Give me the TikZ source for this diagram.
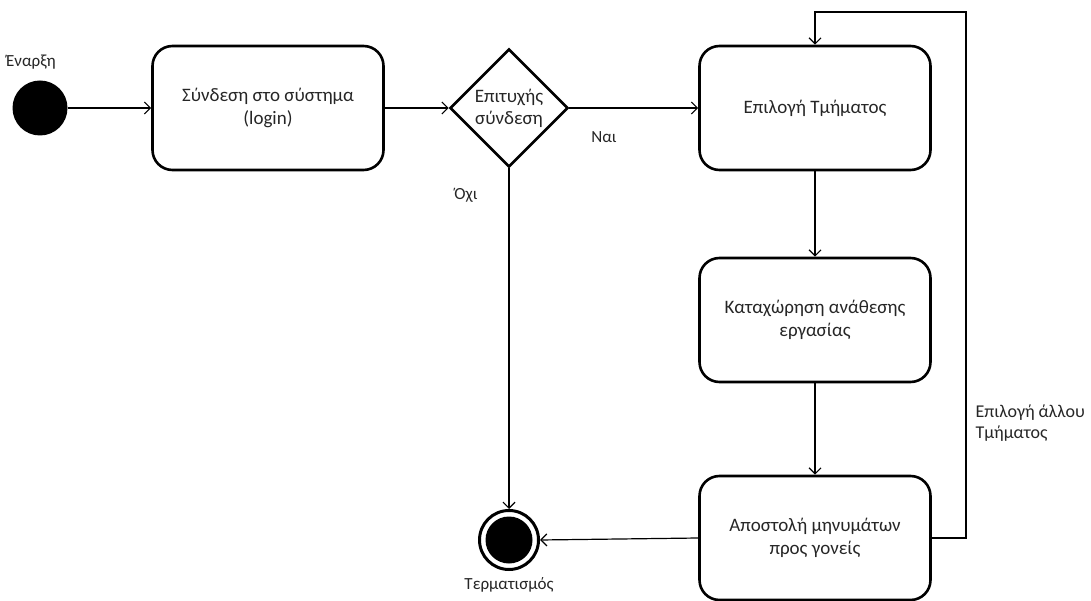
\documentclass[tikz,border=0pt]{standalone}
\usepackage{fontspec}
\setmainfont{Carlito}
\usetikzlibrary{arrows.meta,shapes.geometric}
\definecolor{txt}{RGB}{38,38,38}
\begin{document}
\begin{tikzpicture}[x=1pt,y=-1pt,
  act/.style={draw,line width=2.6pt,rounded corners=20pt,minimum width=231pt,minimum height=124pt,align=center,font=\fontsize{19}{23}\selectfont,text=txt,inner sep=0pt},
  dec/.style={draw,line width=2.6pt,diamond,minimum width=118pt,minimum height=118pt,aspect=1,inner sep=0pt},
  dectext/.style={align=center,font=\fontsize{19}{22}\selectfont,text=txt,inner sep=0pt},
  conn/.style={line width=1.2pt,-{Straight Barb[length=6pt,width=12pt,line width=1.2pt]}},
  lbl/.style={font=\fontsize{17}{20}\selectfont,text=txt,align=left}]
\useasboundingbox (0,0) rectangle (1091,601);
\node[circle,fill=black,minimum size=55pt,inner sep=0pt] (start) at (40,108) {};
\node[lbl] at (31,62) {Έναρξη};
\node[act] (login) at (268,108) {Σύνδεση στο σύστημα\\(login)};
\node[dec] (dec) at (509,108) {};
\node[dectext] (dect) at (509,108) {Επιτυχής\\σύνδεση};
\node[act] (sel) at (815,108) {Επιλογή Τμήματος};
\node[act] (reg) at (815,320) {Καταχώρηση ανάθεσης\\εργασίας};
\node[act] (send) at (815,538) {Αποστολή μηνυμάτων\\προς γονείς};
\node[circle,draw,line width=3pt,minimum size=59pt,inner sep=0pt] (end) at (509,540) {};
\node[circle,fill=black,minimum size=47pt,inner sep=0pt] at (end.center) {};
\node[lbl] at (509,585) {Τερματισμός};
\node[lbl] at (604,137) {Ναι};
\node[lbl] at (466,195) {Όχι};
\node[lbl,anchor=west,font=\fontsize{18}{21}\selectfont] at (972,423) {Επιλογή άλλου\\Τμήματος};
\coordinate (c1) at (966,538);
\coordinate (c2) at (966,12);
\coordinate (c3) at (815,12);
\draw[conn] (start) -- (login);
\draw[conn] (login) -- (dec);
\draw[conn] (dec.east) -- (sel.west);
\draw[conn] (sel) -- (reg);
\draw[conn] (reg) -- (send);
\draw[conn] (dec.south) -- (end.north);
\draw[conn] (send.west) -- (end.east);
\draw[conn] (send.east) -- (c1) -- (c2) -- (c3) -- (sel.north);
\end{tikzpicture}
\end{document}
